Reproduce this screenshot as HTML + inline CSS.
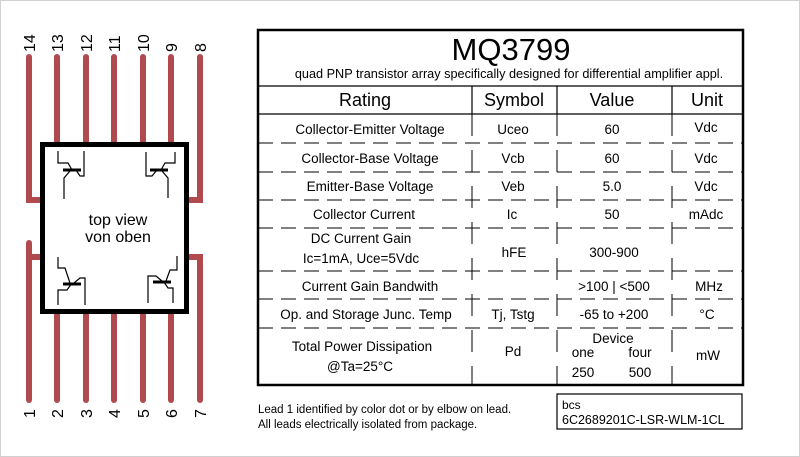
<!DOCTYPE html>
<html><head><meta charset="utf-8"><style>
html,body{margin:0;padding:0;background:#fff}
svg{display:block}
text{font-family:"Liberation Sans",Arial,sans-serif;fill:#000}
</style></head><body>
<svg width="800" height="457" viewBox="0 0 800 457" xmlns="http://www.w3.org/2000/svg">
<rect x="0.5" y="0.5" width="799" height="456" fill="#fff" stroke="#d0d0d0"/>
<g stroke="#b04a4e" stroke-width="6" stroke-linecap="round" fill="none">
<path d="M29,57 V200 H42"/>
<line x1="57" y1="57" x2="57" y2="142"/>
<line x1="86" y1="57" x2="86" y2="142"/>
<line x1="114" y1="57" x2="114" y2="142"/>
<line x1="143" y1="57" x2="143" y2="142"/>
<line x1="171" y1="57" x2="171" y2="142"/>
<path d="M200,57 V200 H188"/>
<path d="M29,243 V400"/><line x1="29" y1="257" x2="42" y2="257"/>
<line x1="57" y1="313" x2="57" y2="400"/>
<line x1="86" y1="313" x2="86" y2="400"/>
<line x1="114" y1="313" x2="114" y2="400"/>
<line x1="143" y1="313" x2="143" y2="400"/>
<line x1="171" y1="313" x2="171" y2="400"/>
<path d="M188,257 H200 V400"/>
</g>
<rect x="42.5" y="144.5" width="144" height="167" fill="#fff" stroke="#000" stroke-width="5"/>
<g stroke="#000" stroke-width="1.2" fill="none">
<path d="M58,151 V163 H68 L72,170"/><path d="M76,170 L80,176 H84 V151"/><path d="M70,171 L64,178 V199"/>
<line x1="63" y1="170" x2="81" y2="170" stroke-width="3"/>
<path d="M175,152 V163 H165 L161,170"/><path d="M157,170 L152,176 H146 V152"/><path d="M162,171 L168,178 V198"/>
<line x1="150" y1="170" x2="168" y2="170" stroke-width="3"/>
<path d="M58,257 V268 H65 L70,283"/><path d="M74,283 L80,278 H85 V305"/><path d="M72,283 L67,290 H58 V305"/>
<line x1="63" y1="284" x2="81" y2="284" stroke-width="3"/>
<path d="M177,256 V270 H170 L166,281"/><path d="M162,281 L156,276 H148 V303"/><path d="M164,282 L168,288 H173 V303"/>
<line x1="153" y1="282" x2="171" y2="282" stroke-width="3"/>
</g>
<text x="118" y="225" font-size="16" text-anchor="middle">top view</text>
<text x="118" y="242" font-size="16" text-anchor="middle">von oben</text>
<g font-size="16">
<text transform="translate(35,52) rotate(-90)">14</text>
<text transform="translate(63,52) rotate(-90)">13</text>
<text transform="translate(92,52) rotate(-90)">12</text>
<text transform="translate(120,52) rotate(-90)">11</text>
<text transform="translate(149,52) rotate(-90)">10</text>
<text transform="translate(177,52) rotate(-90)">9</text>
<text transform="translate(206,52) rotate(-90)">8</text>
<text transform="translate(35,418) rotate(-90)">1</text>
<text transform="translate(63,418) rotate(-90)">2</text>
<text transform="translate(92,418) rotate(-90)">3</text>
<text transform="translate(120,418) rotate(-90)">4</text>
<text transform="translate(149,418) rotate(-90)">5</text>
<text transform="translate(177,418) rotate(-90)">6</text>
<text transform="translate(206,418) rotate(-90)">7</text>
</g>
<rect x="258" y="30" width="485" height="355" fill="none" stroke="#000" stroke-width="2.5"/>
<line x1="258" y1="86" x2="743" y2="86" stroke="#000" stroke-width="1.2"/>
<line x1="258" y1="114" x2="743" y2="114" stroke="#000" stroke-width="1.2"/>
<g stroke="#000" stroke-width="1.2">
<line x1="472" y1="86" x2="472" y2="114"/><line x1="557" y1="86" x2="557" y2="114"/><line x1="672" y1="86" x2="672" y2="114"/>
</g>
<g stroke="#000" stroke-width="1" stroke-dasharray="22 14">
<line x1="472" y1="114" x2="472" y2="384"/><line x1="557" y1="114" x2="557" y2="384"/><line x1="672" y1="114" x2="672" y2="384"/>
</g>
<g stroke="#000" stroke-width="1" stroke-dasharray="15 8">
<line x1="258" y1="143" x2="743" y2="143"/>
<line x1="258" y1="172" x2="743" y2="172"/>
<line x1="258" y1="200" x2="743" y2="200"/>
<line x1="258" y1="228" x2="743" y2="228"/>
<line x1="258" y1="271" x2="743" y2="271"/>
<line x1="258" y1="299" x2="743" y2="299"/>
<line x1="258" y1="328" x2="743" y2="328"/>
</g>
<text x="511" y="60" font-size="31" text-anchor="middle">MQ3799</text>
<text x="509" y="78" font-size="12.7" text-anchor="middle">quad PNP transistor array specifically designed for differential amplifier appl.</text>
<g font-size="18" text-anchor="middle">
<text x="365" y="106">Rating</text><text x="514" y="106">Symbol</text><text x="612" y="106">Value</text><text x="707" y="106">Unit</text>
</g>
<g font-size="13.5" text-anchor="middle">
<text x="370" y="134">Collector-Emitter Voltage</text><text x="513" y="134">Uceo</text><text x="612" y="134">60</text><text x="706" y="132">Vdc</text>
<text x="370" y="163">Collector-Base Voltage</text><text x="513" y="163">Vcb</text><text x="612" y="163">60</text><text x="706" y="163">Vdc</text>
<text x="370" y="191">Emitter-Base Voltage</text><text x="513" y="191">Veb</text><text x="612" y="191">5.0</text><text x="706" y="191">Vdc</text>
<text x="364" y="219">Collector Current</text><text x="512" y="219">Ic</text><text x="612" y="219">50</text><text x="706" y="219">mAdc</text>
<text x="361" y="243">DC Current Gain</text><text x="361" y="263">Ic=1mA, Uce=5Vdc</text><text x="514" y="257">hFE</text><text x="614" y="257">300-900</text>
<text x="370" y="291">Current Gain Bandwith</text><text x="614" y="291">&gt;100 | &lt;500</text><text x="709" y="291">MHz</text>
<text x="366" y="319">Op. and Storage Junc. Temp</text><text x="513" y="319">Tj, Tstg</text><text x="614" y="319">-65 to +200</text><text x="707" y="319">°C</text>
<text x="362" y="351">Total Power Dissipation</text><text x="360" y="371">@Ta=25°C</text><text x="513" y="356">Pd</text>
<text x="613" y="343">Device</text><text x="583" y="357">one</text><text x="640" y="357">four</text><text x="583" y="377">250</text><text x="640" y="377">500</text>
<text x="708" y="360">mW</text>
</g>
<text x="258" y="413" font-size="11.5">Lead 1 identified by color dot or by elbow on lead.</text>
<text x="258" y="428" font-size="11.5">All leads electrically isolated from package.</text>
<rect x="557" y="394" width="185" height="35" fill="none" stroke="#000" stroke-width="1.2"/>
<text x="562" y="409" font-size="12">bcs</text>
<text x="562" y="424" font-size="12.5">6C2689201C-LSR-WLM-1CL</text>
</svg>
</body></html>
